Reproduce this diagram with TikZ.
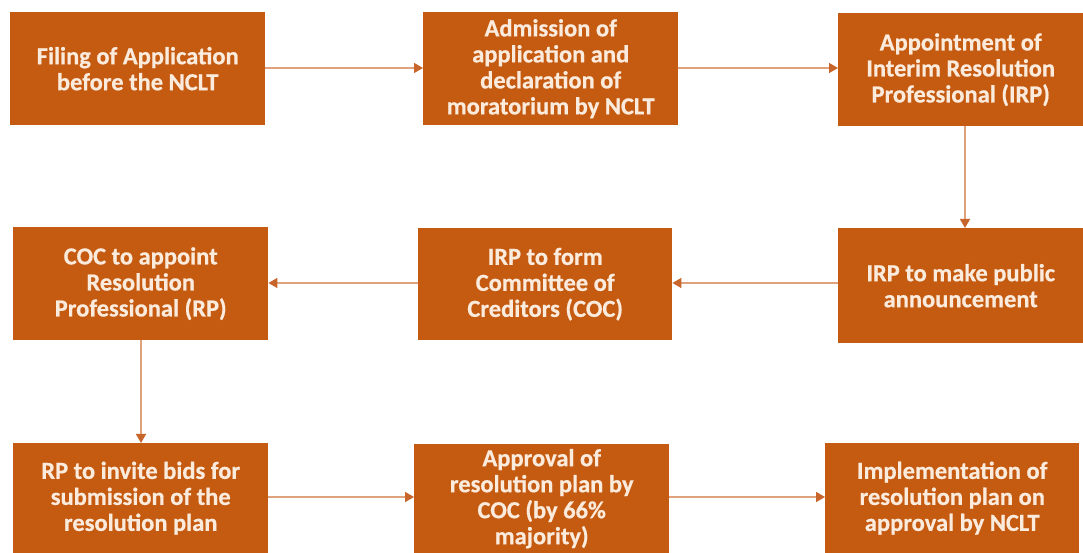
\documentclass[tikz,border=0pt]{standalone}
\usepackage{fontspec}
\setmainfont{Carlito}[FakeBold=0.6]
\usetikzlibrary{arrows.meta}
\definecolor{boxfill}{HTML}{C55A11}
\definecolor{boxtext}{HTML}{FBEBDD}
\definecolor{linkcol}{HTML}{DFA27C}
\definecolor{tipcol}{HTML}{C8652A}
\tikzset{
  stepbox/.style={draw=none, fill=boxfill, text=boxtext, font=\fontsize{24.5}{26}\selectfont\bfseries,
    align=center, inner sep=0pt, anchor=north west},
  link/.style={draw=linkcol, line width=1.4pt, -{Triangle[length=9pt,width=10pt,fill=tipcol,color=tipcol]}}
}
\newcommand{\mybox}[6]{% name, x1, y1, x2, y2, text
  \node[stepbox, minimum width={#4pt-#2pt}, minimum height={#5pt-#3pt}] (#1) at (#2pt,{553pt-#3pt}) {#6};}
\begin{document}
\begin{tikzpicture}[x=1pt,y=1pt]
\useasboundingbox (0,0) rectangle (1083,553);
\fill[white] (0,0) rectangle (1083,553);
\mybox{b1}{10}{12}{265}{125}{Filing of Application\\before the NCLT}
\mybox{b2}{423}{12}{678}{125}{Admission of\\application and\\declaration of\\moratorium by NCLT}
\mybox{b3}{838}{13}{1083}{126}{Appointment of\\Interim Resolution\\Professional (IRP)}
\mybox{b4}{13}{227}{268}{340}{COC to appoint\\Resolution\\Professional (RP)}
\mybox{b5}{418}{228}{672}{340}{IRP to form\\Committee of\\Creditors (COC)}
\mybox{b6}{838}{228}{1083}{343}{IRP to make public\\announcement}
\mybox{b7}{13}{443}{268}{553}{RP to invite bids for\\submission of the\\resolution plan}
\mybox{b8}{414}{444}{669}{553}{Approval of\\resolution plan by\\COC (by 66\%\\majority)}
\mybox{b9}{825}{443}{1079}{553}{Implementation of\\resolution plan on\\approval by NCLT}
\draw[link] (b1.east |- 0,485) -- (b2.west |- 0,485);
\draw[link] (b2.east |- 0,485) -- (b3.west |- 0,485);
\draw[link] (b3.south -| 965,0) -- (b6.north -| 965,0);
\draw[link] (b6.west |- 0,270) -- (b5.east |- 0,270);
\draw[link] (b5.west |- 0,270) -- (b4.east |- 0,270);
\draw[link] (b4.south -| 141,0) -- (b7.north -| 141,0);
\draw[link] (b7.east |- 0,56) -- (b8.west |- 0,56);
\draw[link] (b8.east |- 0,56) -- (b9.west |- 0,56);
\end{tikzpicture}
\end{document}
